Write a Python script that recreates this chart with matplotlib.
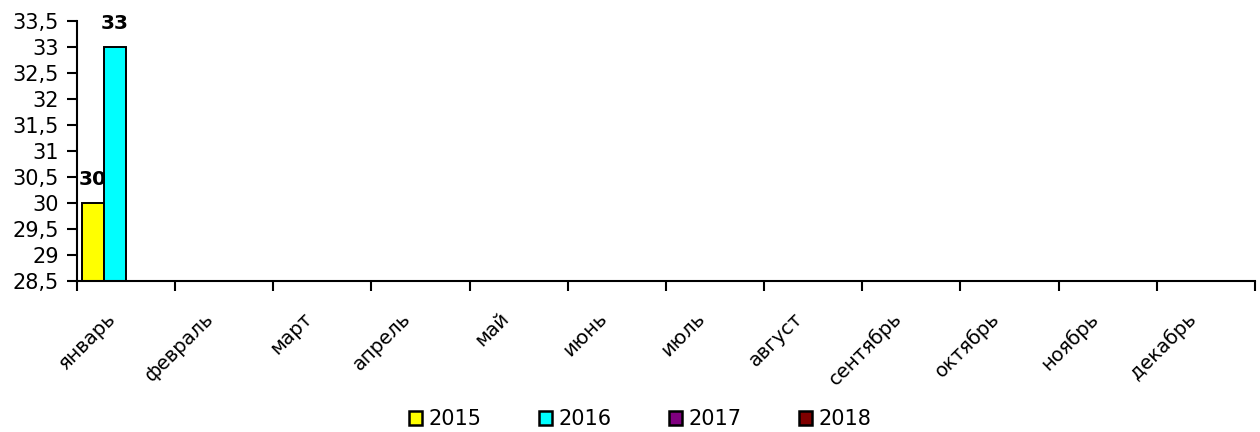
import numpy as np
import matplotlib
matplotlib.use("Agg")
import matplotlib.pyplot as plt
from matplotlib.ticker import FuncFormatter, FixedLocator

months = ["январь", "февраль", "март", "апрель", "май", "июнь",
          "июль", "август", "сентябрь", "октябрь", "ноябрь", "декабрь"]
years = ["2015", "2016", "2017", "2018"]
colors = ["#FFFF00", "#00FFFF", "#800080", "#800000"]
# only January has values
values = {
    "2015": [30] + [np.nan] * 11,
    "2016": [33] + [np.nan] * 11,
    "2017": [np.nan] * 12,
    "2018": [np.nan] * 12,
}

plt.rcParams["font.family"] = ["DejaVu Sans"]

fig = plt.figure(figsize=(12.6, 4.32), dpi=100)
ax = fig.add_axes([0.061, 0.350, 0.935, 0.601])

ymin = 28.5
x = np.arange(len(months))
width = 0.224
for i, (yr, col) in enumerate(zip(years, colors)):
    offs = (i - 1.5) * width
    vals = np.array(values[yr], dtype=float)
    ax.bar(x + offs, vals - ymin, width, bottom=ymin, color=col,
           edgecolor="black", linewidth=1.4, label=yr)
    for xi, v in zip(x, vals):
        if not np.isnan(v):
            ax.annotate(f"{v:g}", (xi + offs, v), xytext=(0, 10),
                        textcoords="offset points", ha="center", va="bottom",
                        fontsize=14.5, fontweight="bold")

ax.set_xlim(-0.5, len(months) - 0.5)
ax.set_ylim(28.5, 33.5)
ax.set_yticks(np.arange(28.5, 33.51, 0.5))
ax.yaxis.set_major_formatter(FuncFormatter(lambda v, p: f"{v:g}".replace(".", ",")))

# ticks between categories, labels a bit left of each category centre
ax.xaxis.set_major_locator(FixedLocator(np.arange(-0.5, len(months), 1.0)))
ax.xaxis.set_minor_locator(FixedLocator(x - 0.2))
ax.set_xticklabels([], minor=False)
ax.set_xticklabels(months, minor=True, rotation=45, ha="right", va="top",
                   rotation_mode="anchor", fontsize=14)
ax.tick_params(axis="x", which="major", length=7, width=1.5, direction="out")
ax.tick_params(axis="x", which="minor", length=0, pad=20)
ax.tick_params(axis="y", length=7, width=1.5, direction="out", labelsize=15, pad=6)

for s in ["top", "right"]:
    ax.spines[s].set_visible(False)
for s in ["left", "bottom"]:
    ax.spines[s].set_linewidth(1.5)

leg = fig.legend(loc="center", bbox_to_anchor=(0.508, 0.03), ncol=4, frameon=False,
                 fontsize=15, handlelength=0.65, handleheight=0.65,
                 handletextpad=0.3, columnspacing=2.75)
for h in leg.legend_handles:
    h.set_linewidth(1.8)

fig.savefig("out.png", dpi=100)
